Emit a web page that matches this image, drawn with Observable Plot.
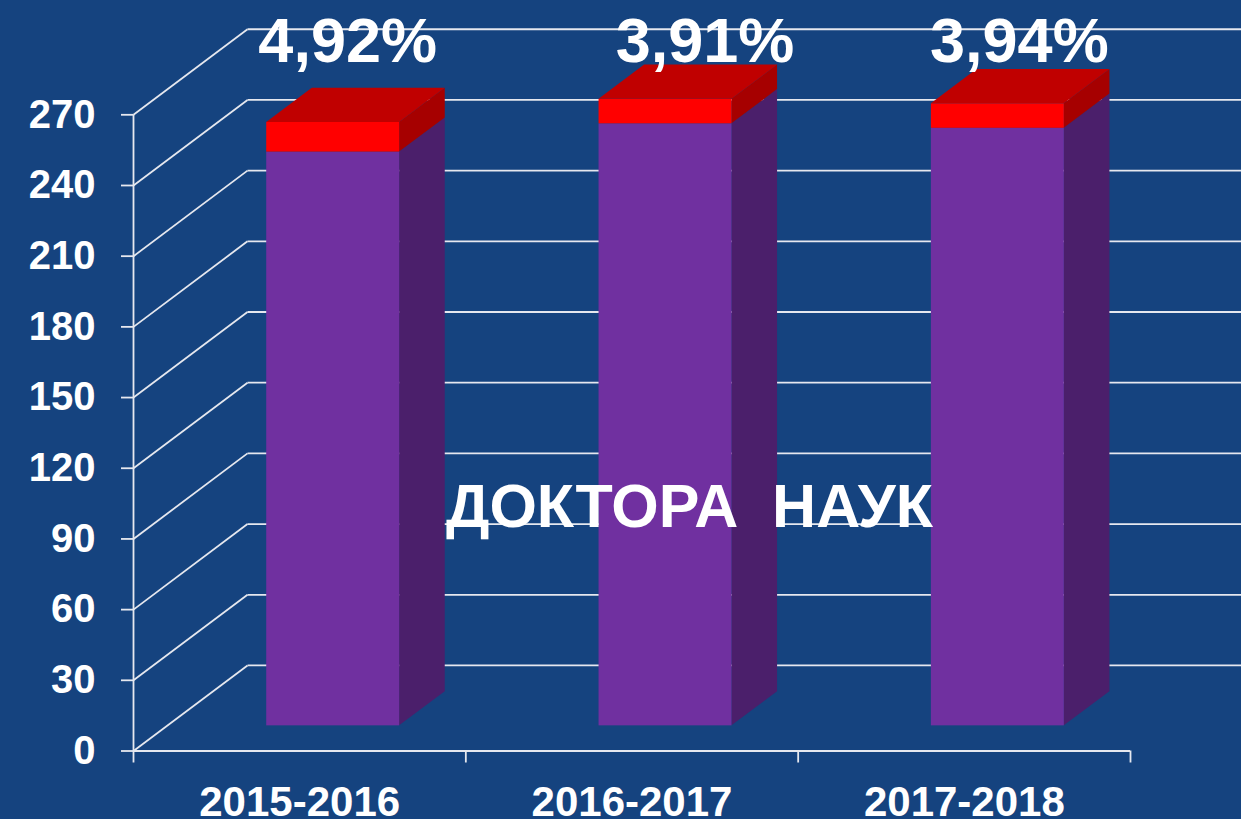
<!DOCTYPE html>
<html><head><meta charset="utf-8">
<script src="https://cdn.jsdelivr.net/npm/d3@7"></script>
<script src="https://cdn.jsdelivr.net/npm/@observablehq/plot@0.6"></script>
<style>html,body{margin:0;padding:0;background:#15437f;overflow:hidden}</style>
</head><body><div id="chart"></div>
<script>
// ---- data ----
const years = ["2015-2016", "2016-2017", "2017-2018"];
const doctors = [243.5, 255.5, 253.6];   // purple part
const added = [12.6, 10.4, 10.4];        // red part
const shares = ["4,92%", "3,91%", "3,94%"];
const yTicks = [0, 30, 60, 90, 120, 150, 180, 210, 240, 270];
const title = "ДОКТОРА\u00a0 НАУК";

// ---- style ----
const BG = "#15437f";
const GRID = "#e6e8ef";
const FONT = "'Liberation Sans', Arial, Helvetica, sans-serif";
const kx = 0.343, ky = 36.3;      // full depth offset in data units
const d1 = 0.294, d2 = 0.694;     // bar depth (front, back)
const hw = 0.2;                   // half bar width
const labelNudge = [48, 73, 55];

const segs = [];
years.forEach((yr, i) => {
  segs.push({i, lo: 0, hi: doctors[i], part: "doc"});
  segs.push({i, lo: doctors[i], hi: doctors[i] + added[i], part: "add"});
});
const sides = segs.flatMap((s, k) => [d1, d2].map(d => ({
  k, part: s.part, x: s.i + hw + kx * d, y1: s.lo + ky * d, y2: s.hi + ky * d
})));
const tops = years.flatMap((yr, i) => [d1, d2].map(d => ({
  i, y: doctors[i] + added[i] + ky * d, x1: i - hw + kx * d, x2: i + hw + kx * d
})));

const frontColor = {doc: "#7030a0", add: "#ff0000"};
const sideColor = {doc: "#4b1f6b", add: "#a60000"};

const chart = Plot.plot({
  width: 1241, height: 819,
  marginLeft: 133, marginRight: 111, marginTop: 114.3, marginBottom: 68.5,
  x: {domain: [-0.5, 2.5], axis: null},
  y: {domain: [0, 270], axis: null},
  style: {background: BG, color: "white", fontFamily: FONT},
  marks: [
    // back wall grid
    Plot.link(yTicks, {x1: -0.5 + kx, x2: 2.5 + kx, y1: d => d + ky, y2: d => d + ky, stroke: GRID, strokeWidth: 1.8}),
    // side wall diagonals
    Plot.link(yTicks, {x1: -0.5, y1: d => d, x2: -0.5 + kx, y2: d => d + ky, stroke: GRID, strokeWidth: 1.8}),
    // bars: side faces
    Plot.areaY(sides, {x: "x", y1: "y1", y2: "y2", z: "k", fill: d => sideColor[d.part]}),
    // bars: front faces
    Plot.rect(segs, {
      x1: d => d.i - hw + kx * d1, x2: d => d.i + hw + kx * d1,
      y1: d => d.lo + ky * d1, y2: d => d.hi + ky * d1,
      fill: d => frontColor[d.part]
    }),
    // bars: top faces
    Plot.areaX(tops, {y: "y", x1: "x1", x2: "x2", z: "i", fill: "#c00000"}),
    // axes
    Plot.ruleX([-0.5], {y1: 0, y2: 270, stroke: GRID, strokeWidth: 1.8}),
    Plot.ruleY([0], {x1: -0.5, x2: 2.5, stroke: GRID, strokeWidth: 1.8}),
    Plot.axisY({ticks: yTicks, tickSize: 12, tickPadding: 26, fontSize: 40, fontWeight: "bold", strokeWidth: 1.8, stroke: GRID}),
    Plot.axisX({ticks: [-0.5, 0.5, 1.5, 2.5], tickSize: 12, tickFormat: () => "", strokeWidth: 1.8, stroke: GRID}),
    Plot.axisX({ticks: [0, 1, 2], tickFormat: i => years[i], tickSize: 0, tickPadding: 35, fontSize: 42, fontWeight: "bold"}),
    // percent labels
    ...shares.map((s, i) => Plot.text([i], {
      x: d => d, text: () => s, frameAnchor: "top", lineAnchor: "bottom", dy: -52.6, dx: labelNudge[i],
      fontSize: 63, fontWeight: "bold", fill: "white"
    })),
    // inner title
    Plot.text([title], {frameAnchor: "middle", dx: 57.5, dy: 75, fontSize: 61, fontWeight: "bold", fill: "white"})
  ]
});
document.getElementById("chart").appendChild(chart);
</script>
</body></html>
